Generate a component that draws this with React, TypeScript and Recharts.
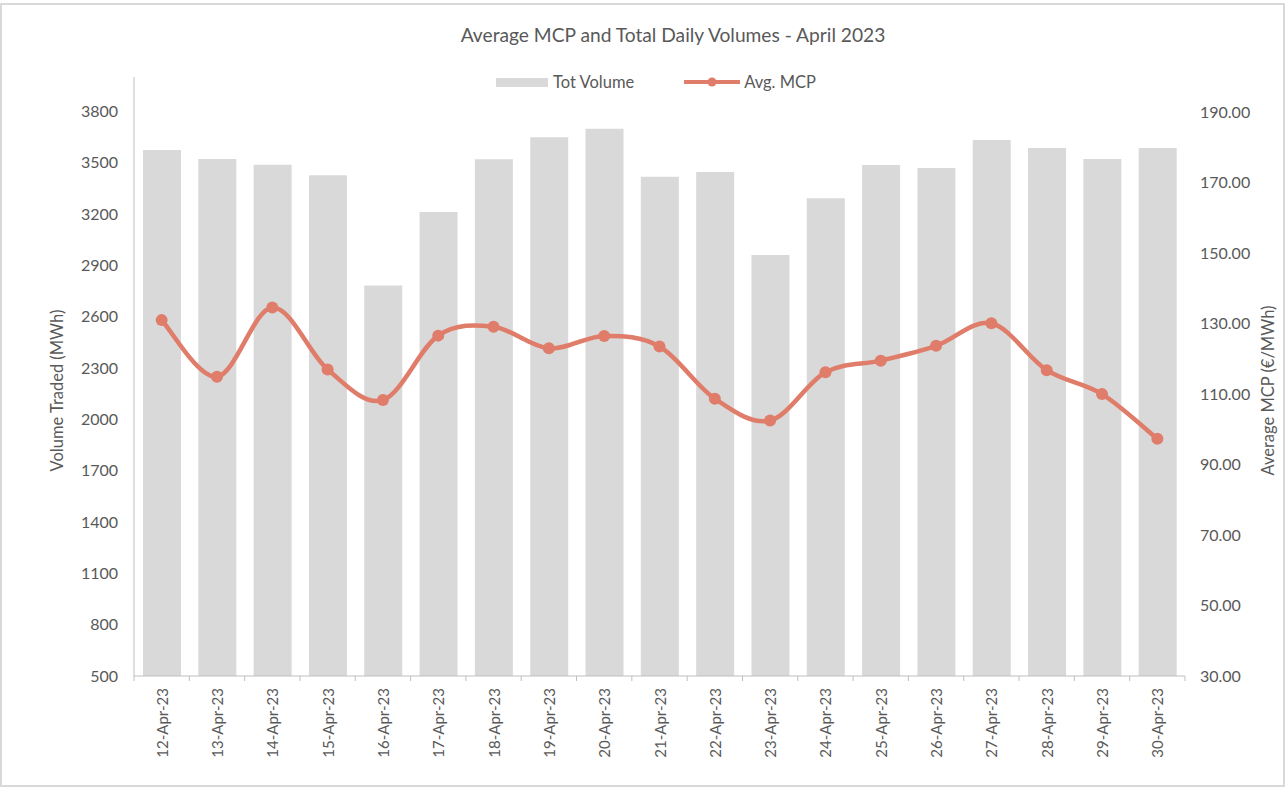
import { ComposedChart, Bar, Line, XAxis, YAxis, Legend, Label } from "recharts";

const dates = [
  "12-Apr-23", "13-Apr-23", "14-Apr-23", "15-Apr-23", "16-Apr-23", "17-Apr-23", "18-Apr-23",
  "19-Apr-23", "20-Apr-23", "21-Apr-23", "22-Apr-23", "23-Apr-23", "24-Apr-23", "25-Apr-23",
  "26-Apr-23", "27-Apr-23", "28-Apr-23", "29-Apr-23", "30-Apr-23",
];
const totVolume = [
  3573, 3521, 3488, 3426, 2781, 3211, 3519, 3648, 3698, 3417,
  3445, 2960, 3291, 3486, 3468, 3632, 3585, 3521, 3585,
];
const avgMcp = [
  131.0, 114.9, 134.6, 117.0, 108.3, 126.6, 129.1, 123.0, 126.5, 123.5,
  108.7, 102.5, 116.2, 119.5, 123.7, 130.1, 116.8, 110.0, 97.3,
];
const volumeTicks = [500, 800, 1100, 1400, 1700, 2000, 2300, 2600, 2900, 3200, 3500, 3800];
const mcpTicks = [30, 50, 70, 90, 110, 130, 150, 170, 190];

const data = dates.map((d, i) => ({ date: d, vol: totVolume[i], mcp: avgMcp[i] }));

const W = 1286;
const H = 787;
const M = { top: 77, right: 15, bottom: 31, left: 0 };
const LEFT_W = 134;
const RIGHT_W = 86;
const BAND = (W - M.left - M.right - LEFT_W - RIGHT_W) / dates.length;

const TEXT = "#595959";
const AXIS = "#bfbfbf";
const BAR = "#d9d9d9";
const MCP = "#e07c6a";
const FONT = "Lato, 'Open Sans', sans-serif";

// excel-like smoothed line (catmull-rom as cubic bezier)
const excelSmooth = (context: any) => {
  let pts: number[][] = [];
  return {
    areaStart() {},
    areaEnd() {},
    lineStart() {
      pts = [];
    },
    point(x: number, y: number) {
      pts.push([+x, +y]);
    },
    lineEnd() {
      if (!pts.length) return;
      context.moveTo(pts[0][0], pts[0][1]);
      for (let i = 0; i < pts.length - 1; i++) {
        const p0 = pts[i - 1] || pts[i];
        const p1 = pts[i];
        const p2 = pts[i + 1];
        const p3 = pts[i + 2] || p2;
        context.bezierCurveTo(
          p1[0] + (p2[0] - p0[0]) / 6,
          p1[1] + (p2[1] - p0[1]) / 6,
          p2[0] - (p3[0] - p1[0]) / 6,
          p2[1] - (p3[1] - p1[1]) / 6,
          p2[0],
          p2[1]
        );
      }
    },
  };
};

const DateTick = ({ x, y, payload, index }: any) => (
  <g>
    <line x1={x - BAND / 2} y1={y} x2={x - BAND / 2} y2={y + 5} stroke={AXIS} />
    {index === dates.length - 1 && (
      <line x1={x + BAND / 2} y1={y} x2={x + BAND / 2} y2={y + 5} stroke={AXIS} />
    )}
    <text
      transform={`translate(${x},${y}) rotate(-90)`}
      x={-12}
      y={0}
      textAnchor="end"
      dominantBaseline="central"
      fill={TEXT}
      fontSize={15}
    >
      {payload.value}
    </text>
  </g>
);

const ChartLegend = () => (
  <div
    style={{
      display: "flex",
      justifyContent: "center",
      alignItems: "center",
      fontSize: 16.5,
      color: TEXT,
      fontFamily: FONT,
      paddingLeft: 26,
    }}
  >
    <span style={{ width: 52, height: 9, background: BAR, marginRight: 5 }} />
    <span>Tot Volume</span>
    <svg width={56} height={12} style={{ marginLeft: 50, marginRight: 4 }}>
      <line x1={0} y1={6} x2={56} y2={6} stroke={MCP} strokeWidth={4} strokeLinecap="round" />
      <circle cx={28} cy={6} r={4.5} fill={MCP} />
    </svg>
    <span>Avg. MCP</span>
  </div>
);

export default function App() {
  return (
    <div style={{ position: "absolute", left: 0, top: 0, width: W, height: H, fontFamily: FONT, background: "#fff" }}>
      <div
        style={{
          position: "absolute",
          left: 0,
          top: 3,
          width: W - 1,
          height: H - 3,
          border: "2px solid #d9d9d9",
          boxSizing: "border-box",
        }}
      />
      <div
        style={{
          position: "absolute",
          left: 673,
          top: 23,
          transform: "translateX(-50%)",
          whiteSpace: "nowrap",
          fontSize: 19.2,
          color: TEXT,
        }}
      >
        Average MCP and Total Daily Volumes - April 2023
      </div>
      <ComposedChart width={W} height={H} data={data} margin={M} style={{ fontFamily: FONT }}>
        <XAxis
          dataKey="date"
          xAxisId="x"
          height={80}
          interval={0}
          tickSize={0}
          tickMargin={0}
          tickLine={false}
          axisLine={{ stroke: AXIS }}
          tick={<DateTick />}
        />
        <YAxis
          yAxisId="vol"
          orientation="left"
          width={LEFT_W}
          domain={[500, 4000]}
          ticks={volumeTicks}
          interval={0}
          tickLine={false}
          tickMargin={10}
          axisLine={{ stroke: AXIS }}
          tick={{ fill: TEXT, fontSize: 16 }}
        >
          <Label value="Volume Traded (MWh)" angle={-90} position="center" dx={-10} dy={14} fill={TEXT} fontSize={16.5} />
        </YAxis>
        <YAxis
          yAxisId="mcp"
          orientation="right"
          width={RIGHT_W}
          domain={[30, 200]}
          ticks={mcpTicks}
          interval={0}
          tickLine={false}
          axisLine={false}
          tickMargin={9}
          tickFormatter={(v: number) => v.toFixed(2)}
          tick={{ fill: TEXT, fontSize: 16 }}
        >
          <Label value="Average MCP (€/MWh)" angle={-90} position="center" dx={40} dy={14} fill={TEXT} fontSize={16.5} />
        </YAxis>
        <Legend
          verticalAlign="middle"
          align="center"
          layout="horizontal"
          wrapperStyle={{ top: 72, left: 0, width: W }}
          content={<ChartLegend />}
        />
        <Bar
          xAxisId="x"
          yAxisId="vol"
          dataKey="vol"
          name="Tot Volume"
          fill={BAR}
          barSize={38}
          isAnimationActive={false}
        />
        <Line
          xAxisId="x"
          yAxisId="mcp"
          dataKey="mcp"
          name="Avg. MCP"
          type={excelSmooth as any}
          stroke={MCP}
          strokeWidth={4.5}
          dot={{ r: 6, fill: MCP, stroke: MCP, strokeWidth: 0 }}
          activeDot={false}
          isAnimationActive={false}
        />
      </ComposedChart>
    </div>
  );
}
